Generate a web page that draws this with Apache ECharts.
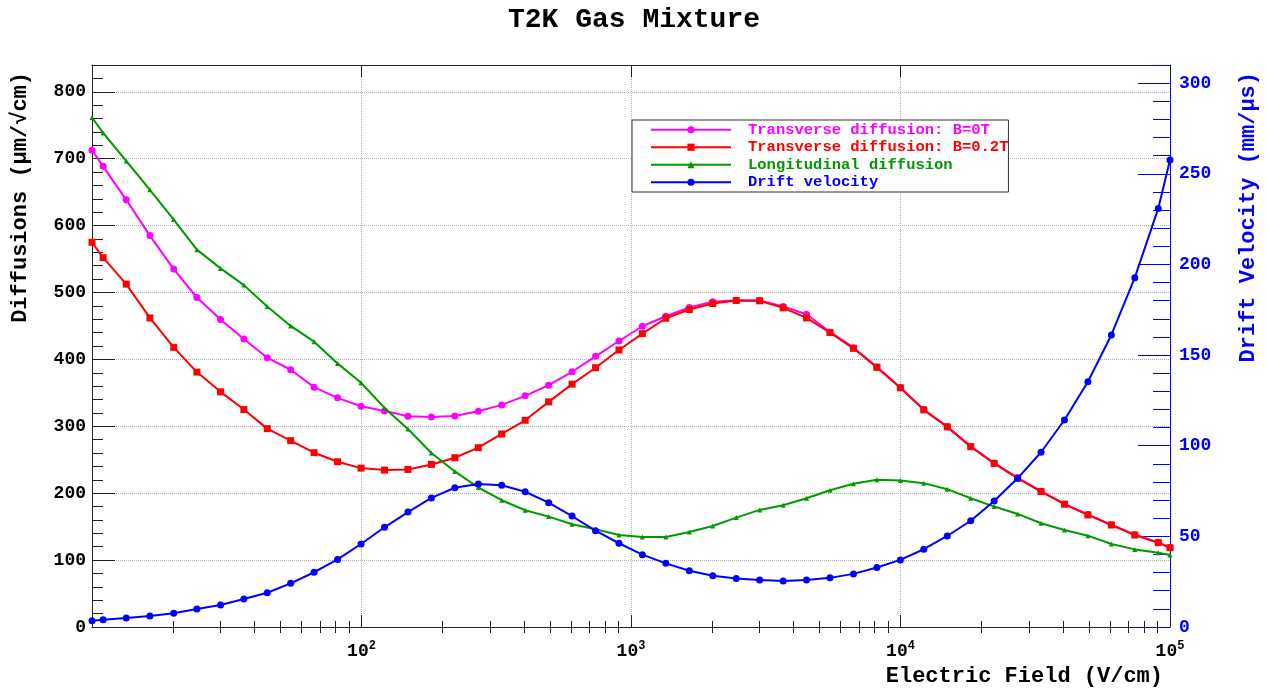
<!DOCTYPE html>
<html>
<head>
<meta charset="utf-8">
<script src="https://cdn.jsdelivr.net/npm/echarts@6/dist/echarts.min.js"></script>
<style>
html,body{margin:0;padding:0;background:#fff;}
#chart{width:1268px;height:688px;}
</style>
</head>
<body>
<div id="chart"></div>
<script>
// ---- data ----
const fieldValues = [10, 11, 13.4, 16.4, 20.1, 24.5, 30, 36.6, 44.7, 54.6, 66.7, 81.5, 99.6, 121.7, 148.7, 181.7,
  222, 271.3, 331.4, 404.9, 494.8, 604.5, 738.6, 902.4, 1102, 1347, 1646, 2011, 2457, 3002, 3668, 4481,
  5475, 6690, 8174, 9987, 12200, 14910, 18220, 22260, 27190, 33220, 40590, 49590, 60590, 74030, 90450, 100000];

const transverseB0 = [712.5, 688.5, 638.5, 585, 535, 492.5, 459.5, 430.5, 402.5, 384.5, 358.5, 342.5, 330, 323, 315, 314,
  315.5, 322.5, 332, 345.5, 361.5, 381.5, 404.5, 427.5, 449.5, 464.5, 477.5, 486, 488.5, 488, 479, 467.5,
  441, 417.5, 389, 358, 325, 299.5, 270, 245, 223, 203, 184, 168, 153, 138, 126.5, 119];

const transverseB02 = [575, 552, 512.5, 462, 418, 381, 351.5, 325, 296.5, 278.5, 260.5, 247, 237.5, 234.5, 235.5, 243,
  253, 268, 288.5, 309, 336.5, 363, 387.5, 414, 438.5, 461.5, 474.5, 483.5, 488, 487.5, 477, 462,
  440, 416.5, 388, 357.5, 324.5, 299, 269.5, 244.5, 222.5, 202.5, 183.5, 167.5, 152.5, 137.5, 126, 118.5];

const longitudinal = [761.5, 738.5, 696.5, 653.5, 609, 564, 536, 511, 479, 450, 426.5, 394, 365, 327.5, 296, 260,
  232.5, 208.5, 189.5, 174.5, 165, 153.5, 146, 137.5, 134.5, 134.5, 142, 151, 163.5, 175, 182, 192.5,
  204.5, 214, 220, 219, 215, 206, 192.5, 180, 169, 155, 145, 136.5, 124, 116, 111, 107.5];

const driftVelocity = [3.5, 4.0, 5.0, 6.1, 7.6, 9.9, 12.1, 15.4, 18.9, 24.1, 30.2, 37.3, 45.8, 55.0, 63.4, 71.2,
  76.8, 78.9, 78.2, 74.6, 68.6, 61.2, 53.1, 46.2, 39.9, 35.1, 31.0, 28.3, 26.8, 25.9, 25.4, 25.9,
  27.1, 29.3, 32.8, 37.0, 42.9, 50.2, 58.6, 69.5, 82.0, 96.4, 114.2, 135.3, 161.1, 192.7, 230.9, 257.6];

const seriesNames = ['Transverse diffusion: B=0T', 'Transverse diffusion: B=0.2T', 'Longitudinal diffusion', 'Drift velocity'];
const xMinorTicks = [20, 30, 40, 50, 60, 70, 80, 90, 200, 300, 400, 500, 600, 700, 800, 900,
  2000, 3000, 4000, 5000, 6000, 7000, 8000, 9000, 20000, 30000, 40000, 50000, 60000, 70000, 80000, 90000];
const titleText = 'T2K Gas Mixture';
const xTitle = 'Electric Field (V/cm)';
const yLeftTitle = 'Diffusions (\u03bcm/\u221acm)';
const yRightTitle = 'Drift Velocity (mm/\u03bcs)';

// ---- chart ----
const FONT = '"Liberation Mono", "DejaVu Sans Mono", monospace';
const FRAME = '#222';
const BLUE = '#0000ff';
const pairs = ys => fieldValues.map((x, i) => [x, ys[i]]);

const chart = echarts.init(document.getElementById('chart'), null, {renderer: 'canvas'});

const minorX = pos => ({
  type: 'log', logBase: 10, min: 10, max: 100000, position: pos, gridIndex: 0,
  axisLine: {show: false},
  axisTick: {show: true, inside: true, length: 6, customValues: xMinorTicks, lineStyle: {color: FRAME, width: 1}},
  minorTick: {show: false},
  axisLabel: {show: false},
  splitLine: {show: false}
});

const option = {
  animation: false,
  backgroundColor: '#fff',
  title: {
    text: titleText, left: 'center', top: 1,
    textStyle: {fontFamily: FONT, fontWeight: 'bold', fontSize: 28, color: '#000'}
  },
  grid: {left: 92, right: 98, top: 65, bottom: 61, containLabel: false},
  legend: {
    orient: 'vertical', left: 632, top: 120,
    padding: [1, 0, 1, 18],
    itemWidth: 80, itemHeight: 9, itemGap: 0,
    borderColor: '#333', borderWidth: 1, backgroundColor: '#fff',
    selectedMode: false,
    textStyle: {fontFamily: FONT, fontWeight: 'bold', fontSize: 15.5, lineHeight: 17.5, padding: [0, 0, 0, 12]},
    data: [
      {name: seriesNames[0], textStyle: {color: '#ff00ff'}},
      {name: seriesNames[1], textStyle: {color: '#ff0000'}},
      {name: seriesNames[2], textStyle: {color: '#009900'}},
      {name: seriesNames[3], textStyle: {color: BLUE}}
    ]
  },
  xAxis: [
    {
      type: 'log', logBase: 10, min: 10, max: 100000, position: 'bottom', gridIndex: 0,
      axisLine: {show: true, onZero: false, lineStyle: {color: FRAME, width: 1}},
      axisTick: {show: true, inside: true, length: 12, lineStyle: {color: FRAME, width: 1}},
      minorTick: {show: false},
      axisLabel: {
        show: true, margin: 13,
        formatter: v => {
          const e = Math.round(Math.log10(v));
          return e <= 1 ? '' : '{b|10}{e|' + e + '}';
        },
        rich: {
          b: {fontFamily: FONT, fontWeight: 'bold', fontSize: 18, color: '#000'},
          e: {fontFamily: FONT, fontWeight: 'bold', fontSize: 12, color: '#000', padding: [0, 0, 10, 0]}
        }
      },
      splitLine: {show: true, lineStyle: {color: '#b0b0b0', type: 'dotted', width: 1}},
      name: xTitle, nameLocation: 'end', nameGap: -7, nameMoveOverlap: false,
      nameTextStyle: {fontFamily: FONT, fontWeight: 'bold', fontSize: 22, color: '#000',
        align: 'right', verticalAlign: 'top', padding: [38, 0, 0, 0]}
    },
    minorX('bottom'),
    {
      type: 'log', logBase: 10, min: 10, max: 100000, position: 'top', gridIndex: 0,
      axisLine: {show: true, onZero: false, lineStyle: {color: FRAME, width: 1}},
      axisTick: {show: true, inside: true, length: 12, lineStyle: {color: FRAME, width: 1}},
      minorTick: {show: false},
      axisLabel: {show: false},
      splitLine: {show: false}
    },
    minorX('top')
  ],
  yAxis: [
    {
      type: 'value', min: 0, max: 840, interval: 100, position: 'left', gridIndex: 0,
      axisLine: {show: true, onZero: false, lineStyle: {color: FRAME, width: 1}},
      axisTick: {show: true, inside: true, length: 23, lineStyle: {color: FRAME, width: 1}},
      minorTick: {show: false},
      axisLabel: {show: true, margin: 6, showMaxLabel: false,
        fontFamily: FONT, fontWeight: 'bold', fontSize: 18, color: '#000',
        formatter: v => (v > 800 ? '' : String(v))},
      splitLine: {show: true, lineStyle: {color: '#b0b0b0', type: 'dotted', width: 1}},
      name: yLeftTitle, nameLocation: 'end', nameGap: -7, nameRotate: 90, nameMoveOverlap: false,
      nameTextStyle: {fontFamily: FONT, fontWeight: 'bold', fontSize: 22, color: '#000',
        align: 'right', verticalAlign: 'bottom', padding: [0, 0, 61, 0]}
    },
    {
      type: 'value', min: 0, max: 310, interval: 50, position: 'right', gridIndex: 0,
      axisLine: {show: true, onZero: false, lineStyle: {color: BLUE, width: 1}},
      axisTick: {show: true, inside: true, length: 32, lineStyle: {color: BLUE, width: 1}},
      minorTick: {show: false},
      axisLabel: {show: true, margin: 9, showMaxLabel: false,
        fontFamily: FONT, fontWeight: 'bold', fontSize: 18, color: BLUE,
        formatter: v => (v > 300 ? '' : String(v))},
      splitLine: {show: false},
      name: yRightTitle, nameLocation: 'end', nameGap: -7, nameRotate: 90, nameMoveOverlap: false,
      nameTextStyle: {fontFamily: FONT, fontWeight: 'bold', fontSize: 22, color: BLUE,
        align: 'right', verticalAlign: 'top', padding: [67, 0, 0, 0]}
    },
    {
      type: 'value', min: 0, max: 840, interval: 20, position: 'left', gridIndex: 0,
      axisLine: {show: false},
      axisTick: {show: true, inside: true, length: 11, lineStyle: {color: FRAME, width: 1}},
      axisLabel: {show: false}, splitLine: {show: false}
    },
    {
      type: 'value', min: 0, max: 310, interval: 10, position: 'right', gridIndex: 0,
      axisLine: {show: false},
      axisTick: {show: true, inside: true, length: 17, lineStyle: {color: BLUE, width: 1}},
      axisLabel: {show: false}, splitLine: {show: false}
    }
  ],
  series: [
    {
      name: seriesNames[0], type: 'line', xAxisIndex: 0, yAxisIndex: 0,
      data: pairs(transverseB0), symbol: 'circle', symbolSize: 7,
      lineStyle: {color: '#ff00ff', width: 2}, itemStyle: {color: '#ff00ff'}, z: 2
    },
    {
      name: seriesNames[1], type: 'line', xAxisIndex: 0, yAxisIndex: 0,
      data: pairs(transverseB02), symbol: 'rect', symbolSize: 7,
      lineStyle: {color: '#ff0000', width: 2}, itemStyle: {color: '#ff0000'}, z: 3
    },
    {
      name: seriesNames[2], type: 'line', xAxisIndex: 0, yAxisIndex: 0,
      data: pairs(longitudinal), symbol: 'triangle', symbolSize: 5,
      lineStyle: {color: '#009900', width: 2}, itemStyle: {color: '#009900'}, z: 4
    },
    {
      name: seriesNames[3], type: 'line', xAxisIndex: 0, yAxisIndex: 1,
      data: pairs(driftVelocity), symbol: 'circle', symbolSize: 7,
      lineStyle: {color: BLUE, width: 2}, itemStyle: {color: BLUE}, z: 5
    }
  ]
};

chart.setOption(option);
</script>
</body>
</html>
